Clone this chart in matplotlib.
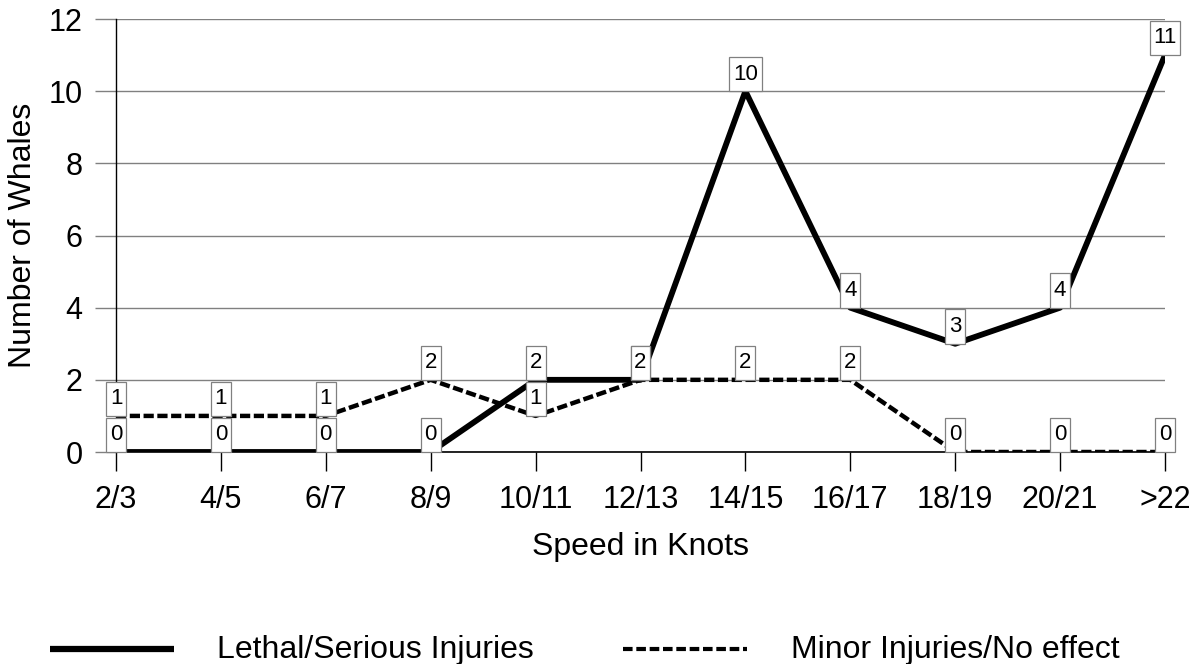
import matplotlib.pyplot as plt
from matplotlib.lines import Line2D
from matplotlib.path import Path

plt.rcParams['font.family'] = ['Liberation Sans', 'DejaVu Sans']

# Data
speeds  = ['2/3', '4/5', '6/7', '8/9', '10/11', '12/13', '14/15', '16/17', '18/19', '20/21', '>22']
lethal  = [0, 0, 0, 0, 2, 2, 10, 4, 3, 4, 11]
minor   = [1, 1, 1, 2, 1, 2, 2, 2, 0, 0, 0]
names   = ['Lethal/Serious Injuries', 'Minor Injuries/No effect']

W, H = 1198, 664
LABEL_FS = 16
PAD_X, PAD_Y = 0.17, 0.30   # box padding, fraction of font size

fig = plt.figure(figsize=(W / 100, H / 100), dpi=100)
# axes box in pixels: x 116..1165, y 19..452
ax = fig.add_axes([116 / W, 1 - 452 / H, (1165 - 116) / W, (452 - 19) / H])

dash = (0, (2.3, 0.8))
x = list(range(len(speeds)))
ax.plot(x, lethal, color='black', lw=4.2, zorder=3)
ax.plot(x, minor, color='black', lw=3.2, linestyle=dash, zorder=3)


def tall_box(x0, y0, w, h, mutation_size):
    # square box, more padding top/bottom than sides
    px = PAD_X * mutation_size
    py = PAD_Y * mutation_size
    verts = [(x0 - px, y0 - py), (x0 + w + px, y0 - py),
             (x0 + w + px, y0 + h + py), (x0 - px, y0 + h + py),
             (x0 - px, y0 - py)]
    return Path(verts, closed=True)


def label_points(vals):
    for xi, v in zip(x, vals):
        ax.annotate(str(v), (xi, v), xytext=(0, PAD_Y * LABEL_FS), textcoords='offset points',
                    ha='center', va='bottom', fontsize=LABEL_FS, zorder=5,
                    annotation_clip=False,
                    bbox=dict(boxstyle=tall_box, fc='white', ec='#808080', lw=0.9))

label_points(lethal)
label_points(minor)

ax.set_xlim(0, len(speeds) - 1)
ax.set_ylim(0, 12)
ax.set_yticks(range(0, 13, 2))
ax.set_xticks(x)
ax.set_xticklabels(speeds)
ax.tick_params(axis='both', labelsize=22)
ax.tick_params(axis='y', length=15, color='#808080', width=1, pad=9)
ax.tick_params(axis='x', length=14, color='black', width=1, pad=10)
ax.yaxis.grid(True, color='#808080', lw=1)
ax.set_axisbelow(True)

for s in ['top', 'right']:
    ax.spines[s].set_visible(False)
ax.spines['left'].set_linewidth(1)
ax.spines['bottom'].set_linewidth(1.2)

ax.set_xlabel('Speed in Knots', fontsize=23, va='baseline')
ax.xaxis.set_label_coords(0.5, (452 - 555) / 433)
ax.set_ylabel('Number of Whales', fontsize=23)
ax.yaxis.label.set_va('center')
ax.yaxis.set_label_coords((23 - 116) / 1049, 0.5)

# legend drawn by hand in figure pixels
ly = 1 - 649 / H
fig.add_artist(Line2D([50 / W, 174 / W], [ly, ly], color='black', lw=4.5,
                      solid_capstyle='butt', transform=fig.transFigure))
fig.add_artist(Line2D([623 / W, 747 / W], [ly, ly], color='black', lw=3.0,
                      linestyle=(0, (2.3, 0.9)), transform=fig.transFigure))
fig.text(217 / W, 1 - 658 / H, names[0], fontsize=23, va='baseline', ha='left')
fig.text(1120 / W, 1 - 658 / H, names[1], fontsize=23, va='baseline', ha='right')

fig.savefig('out.png', dpi=100)
